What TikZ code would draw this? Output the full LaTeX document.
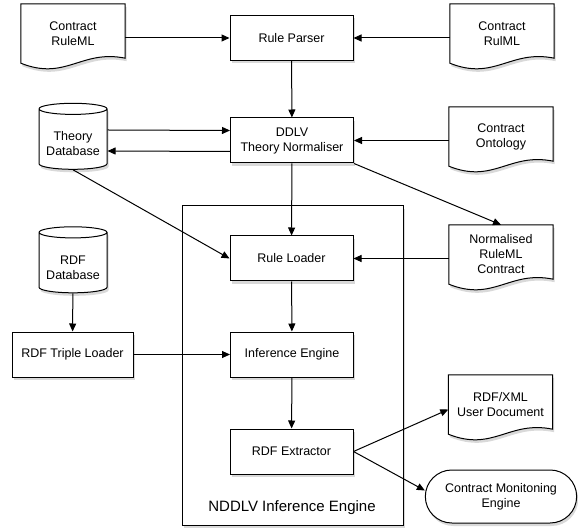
\documentclass[tikz,border=0pt]{standalone}
\usepackage{fontspec}
\setmainfont{Liberation Sans}
\usetikzlibrary{arrows.meta, positioning, backgrounds, shapes.geometric, shapes.misc, shadows}
\tikzset{
  dshadow/.style={drop shadow={shadow xshift=1.5pt, shadow yshift=-3pt, opacity=0.3}},
  proc/.style={rectangle, draw, fill=white, line width=1pt, minimum width=123pt, minimum height=45pt,
    font=\fontsize{12.5}{15}\selectfont, align=center, dshadow},
  doc/.style={rectangle, minimum width=104pt, minimum height=59pt, inner sep=0pt,
    font=\fontsize{12.5}{15}\selectfont, align=center},
  docline/.style={draw, fill=white, line width=1pt, dshadow},
  dbase/.style={cylinder, shape border rotate=90, aspect=0.2, draw, fill=white, line width=1pt,
    minimum width=68pt, minimum height=66pt, inner sep=1pt, text height=32pt,
    font=\fontsize{12.5}{15}\selectfont, align=center, dshadow},
  term/.style={rounded rectangle, draw, fill=white, line width=1pt, minimum width=158pt, minimum height=53pt,
    font=\fontsize{12.5}{15}\selectfont, align=center, dshadow},
  frame/.style={rectangle, draw, fill=white, line width=1pt, minimum width=221pt, minimum height=319pt, dshadow},
  arr/.style={-{Triangle[length=8pt, width=7pt]}, line width=1pt},
}

\begin{document}
\begin{tikzpicture}[x=1pt, y=-1pt]
  \useasboundingbox (0,0) rectangle (578,529);
  \node[frame] (engine) at (292.5,365.5) {};
  \node[font=\fontsize{15}{18}\selectfont] (englabel) at (292,508) {NDDLV Inference Engine};
  \node[proc] (parser) at (291.5,38) {Rule Parser};
  \node[proc] (norm) at (292,140.5) {DDLV\\Theory Normaliser};
  \node[proc] (loader) at (291.5,258.5) {Rule Loader};
  \node[proc] (infer) at (292,354.5) {Inference Engine};
  \node[proc] (extract) at (291.5,451.5) {RDF Extractor};
  \node[proc, minimum width=121pt] (triple) at (72.5,354.5) {RDF Triple Loader};
  \node[dbase] (tdb) at (73,140) {Theory\\Database};
  \node[dbase] (rdb) at (73,263.5) {RDF\\Database};
  \node[doc] (crml) at (73,33.5) {Contract\\RuleML};
  \node[doc] (crul) at (502,33.5) {Contract\\RulML};
  \node[doc] (cont) at (501,136.5) {Contract\\Ontology};
  \node[doc] (nrc) at (501,254.5) {Normalised\\RuleML\\Contract};
  \node[doc] (rdfxml) at (500.5,404.5) {RDF/XML\\User Document};
  \node[term] (monitor) at (501,496.5) {Contract Monitoning\\Engine};
  % document outlines with wavy bottom
  \begin{scope}[on background layer]
    \foreach \d in {crml, crul, cont, nrc, rdfxml}
      \draw[docline] (\d.south west) -- (\d.north west) -- (\d.north east) -- ([yshift=5pt]\d.south east)
        .. controls +(-44,-9) and +(45,18) .. (\d.south west) -- cycle;
  \end{scope}
  \foreach \a/\b in {parser/norm, norm/loader, loader/infer, infer/extract, rdb/triple}
    \draw[arr] (\a) -- (\b);
  \draw[arr] (crml.east |- parser.west) -- (parser.west);
  \draw[arr] (crul.west |- parser.east) -- (parser.east);
  \draw[arr] ([yshift=10pt]tdb.east) -- ([yshift=10pt]norm.west);
  \draw[arr] ([yshift=-11pt]norm.west) -- ([yshift=-11pt]tdb.east);
  \draw[arr] (cont.west |- norm.east) -- (norm.east);
  \draw[arr] (norm.south east) -- (nrc.north);
  \draw[arr] (tdb.south) -- (loader.west);
  \draw[arr] (nrc.west |- loader.east) -- (loader.east);
  \draw[arr] (triple.east) -- (infer.west);
  \draw[arr] (extract.east) -- ([yshift=-5pt]rdfxml.west);
  \draw[arr] (extract.east) -- ([yshift=6pt]monitor.west);
\end{tikzpicture}
\end{document}
